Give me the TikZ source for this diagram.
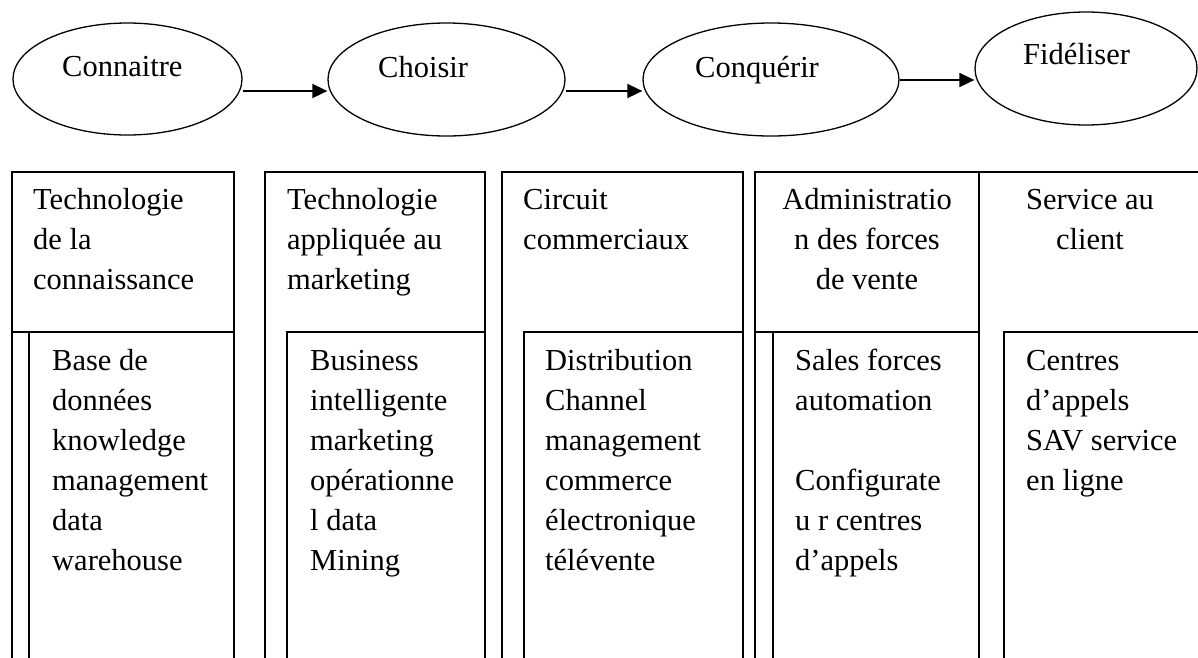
\documentclass[tikz,border=0pt]{standalone}
\usepackage{fontspec}
\setmainfont{Liberation Serif}
\usetikzlibrary{shapes.geometric,arrows.meta}
\begin{document}
\begin{tikzpicture}[x=1pt,y=-1pt,
  every node/.style={font=\fontsize{30.5}{40}\selectfont},
  stage/.style={ellipse,draw,line width=1.3pt,inner sep=0pt},
  lbl/.style={anchor=base west,inner sep=0pt},
  cell/.style={anchor=north west,inner sep=0pt,align=left},
  ccell/.style={anchor=north,inner sep=0pt,align=center},
  arr/.style={line width=1.8pt,-{Triangle[length=15pt,width=14pt]}},
  frame/.style={line width=2pt,line join=miter}]
\useasboundingbox (0,0) rectangle (1198,657);
% stages
\node[stage,minimum width=229pt,minimum height=112pt] (c1) at (127.5,79) {};
\node[stage,minimum width=237pt,minimum height=113pt] (c2) at (446.5,79.5) {};
\node[stage,minimum width=256pt,minimum height=113pt] (c3) at (771,79.5) {};
\node[stage,minimum width=222pt,minimum height=113pt] (c4) at (1086,68.5) {};
\node[lbl] (t1) at (62,76) {Connaitre};
\node[lbl] (t2) at (378,77) {Choisir};
\node[lbl] (t3) at (695,77) {Conquérir};
\node[lbl] (t4) at (1023,64) {Fidéliser};
\draw[arr] ([yshift=-12pt]c1.east) -- ([yshift=-11.5pt]c2.west);
\draw[arr] ([yshift=-11.5pt]c2.east) -- ([yshift=-11.5pt]c3.west);
\draw[arr] ([yshift=-0.5pt]c3.east) -- ([yshift=-11.5pt]c4.west);
% frames
\begin{scope}
\clip (0,0) rectangle (1198,657);
\draw[frame] (12,665) -- (12,172) -- (234,172) -- (234,665);
\draw[frame] (12,332) -- (234,332);
\draw[frame] (29,332) -- (29,665);
\draw[frame] (265,665) -- (265,172) -- (485,172) -- (485,665);
\draw[frame] (287,665) -- (287,332) -- (485,332);
\draw[frame] (502,665) -- (502,172) -- (743,172) -- (743,665);
\draw[frame] (524,665) -- (524,332) -- (743,332);
\draw[frame] (755,665) -- (755,172) -- (979,172) -- (979,665);
\draw[frame] (755,332) -- (979,332);
\draw[frame] (773,332) -- (773,665);
\draw[frame] (979,172) -- (1205,172);
\draw[frame] (1004,665) -- (1004,332) -- (1205,332);
\end{scope}
% header texts
\node[cell] (h1) at (33,184) {\rule{0pt}{25pt}Technologie\\de la\\connaissance};
\node[cell] (h2) at (287,184) {\rule{0pt}{25pt}Technologie\\appliquée au\\marketing};
\node[cell] (h3) at (523,184) {\rule{0pt}{25pt}Circuit\\commerciaux};
\node[ccell] (h4) at (867,184) {\rule{0pt}{25pt}Administratio\\n des forces\\de vente};
\node[ccell] (h5) at (1090,184) {\rule{0pt}{25pt}Service au\\client};
% body texts
\node[cell] (b1) at (52,345) {\rule{0pt}{25pt}Base de\\données\\knowledge\\management\\data\\warehouse};
\node[cell] (b2) at (310,345) {\rule{0pt}{25pt}Business\\intelligente\\marketing\\opérationne\\l data\\Mining};
\node[cell] (b3) at (545,345) {\rule{0pt}{25pt}Distribution\\Channel\\management\\commerce\\électronique\\télévente};
\node[cell] (b4) at (795,345) {\rule{0pt}{25pt}Sales forces\\automation\\[40pt]Configurate\\u r centres\\d’appels};
\node[cell] (b5) at (1026,345) {\rule{0pt}{25pt}Centres\\d’appels\\SAV service\\en ligne};
\end{tikzpicture}
\end{document}
